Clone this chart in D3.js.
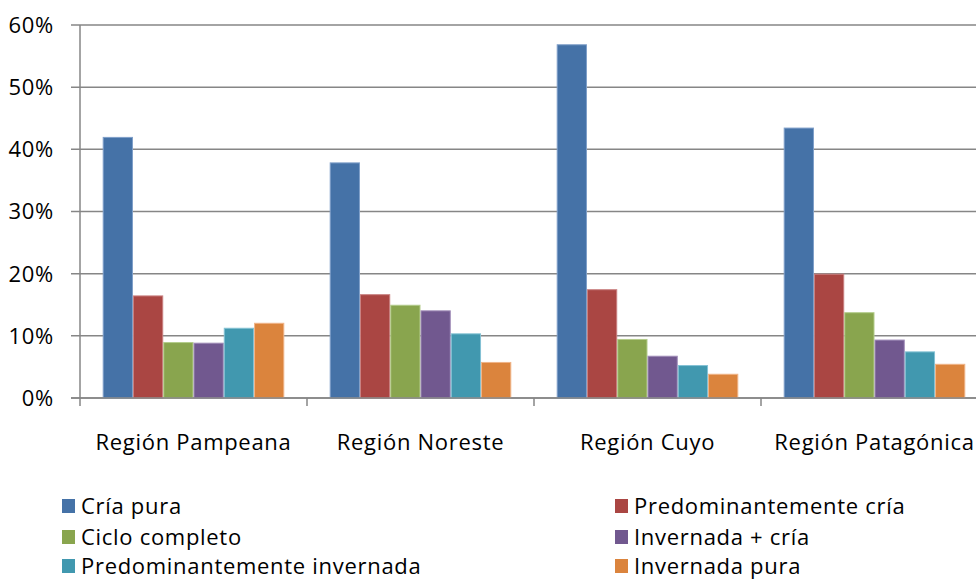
<!DOCTYPE html>
<html lang="es">
  <head>
    <meta charset="UTF-8" />
    <title>Chart</title>
    <style>
      body { margin: 0; background: #fff; }
      svg { display: block; font-family: "Open Sans", sans-serif; }
      svg text { letter-spacing: 0.7px; }
    </style>
  </head>
  <body>
    <svg id="chart" width="976" height="579"></svg>
    <script src="https://d3js.org/d3.v7.min.js"></script>
    <script>
      const regions = ["Región Pampeana", "Región Noreste", "Región Cuyo", "Región Patagónica"];
      const seriesNames = [
        "Cría pura",
        "Predominantemente cría",
        "Ciclo completo",
        "Invernada + cría",
        "Predominantemente invernada",
        "Invernada pura"
      ];
      const colors = ["#4572A7", "#AA4643", "#89A54E", "#71588F", "#4198AF", "#DB843D"];
      const borders = ["#7f9fc9", "#c98080", "#b3cc8a", "#a08cb8", "#84c2d4", "#f0b488"];
      // valores en % por serie, en el orden de regions
      const criaPura = [42.0, 37.9, 56.9, 43.5];
      const predCria = [16.5, 16.7, 17.5, 20.0];
      const cicloCompleto = [9.0, 15.0, 9.5, 13.8];
      const invernadaCria = [8.9, 14.1, 6.8, 9.4];
      const predInvernada = [11.3, 10.4, 5.3, 7.5];
      const invernadaPura = [12.1, 5.8, 3.9, 5.5];
      const yTicks = [0, 10, 20, 30, 40, 50, 60];

      const series = [criaPura, predCria, cicloCompleto, invernadaCria, predInvernada, invernadaPura];

      const svg = d3.select("#chart");
      const plotLeft = 80, plotRight = 988, plotTop = 25, plotBottom = 398;
      const fontSize = 22;

      const x0 = d3.scaleBand().domain(regions).range([plotLeft, plotRight]).paddingInner(0).paddingOuter(0);
      const x1 = d3.scaleBand().domain(d3.range(seriesNames.length)).range([0, x0.bandwidth()])
        .paddingInner(0).paddingOuter(0.75);
      const y = d3.scaleLinear().domain([0, 60]).range([plotBottom, plotTop]);

      // gridlines
      svg.append("g")
        .selectAll("line")
        .data(yTicks)
        .join("line")
        .attr("x1", plotLeft - 9)
        .attr("x2", plotRight)
        .attr("y1", (d) => y(d))
        .attr("y2", (d) => y(d))
        .attr("stroke", "#868686")
        .attr("stroke-width", 1.5);

      // y labels
      svg.append("g")
        .selectAll("text")
        .data(yTicks)
        .join("text")
        .attr("x", 54)
        .attr("y", (d) => y(d))
        .attr("dy", "0.36em")
        .attr("text-anchor", "end")
        .attr("font-size", fontSize)
        .attr("fill", "#000")
        .text((d) => d + "%");

      // bars
      const groups = svg.append("g")
        .selectAll("g")
        .data(regions)
        .join("g")
        .attr("transform", (d) => `translate(${x0(d)},0)`);

      groups.selectAll("rect")
        .data((r, ri) => series.map((s, si) => ({ si, v: s[ri] })))
        .join("rect")
        .attr("x", (d) => x1(d.si) + 0.5)
        .attr("width", x1.bandwidth() - 1)
        .attr("y", (d) => y(d.v) + 0.5)
        .attr("height", (d) => plotBottom - y(d.v) - 0.5)
        .attr("fill", (d) => colors[d.si])
        .attr("stroke", (d) => borders[d.si])
        .attr("stroke-width", 1);

      // y axis line
      svg.append("line")
        .attr("x1", plotLeft).attr("x2", plotLeft)
        .attr("y1", plotTop).attr("y2", plotBottom + 8)
        .attr("stroke", "#868686").attr("stroke-width", 1.5);

      // x axis line + ticks
      svg.append("line")
        .attr("x1", plotLeft - 9).attr("x2", plotRight)
        .attr("y1", plotBottom).attr("y2", plotBottom)
        .attr("stroke", "#868686").attr("stroke-width", 1.5);

      svg.append("g")
        .selectAll("line")
        .data(regions)
        .join("line")
        .attr("x1", (d) => x0(d) + x0.bandwidth())
        .attr("x2", (d) => x0(d) + x0.bandwidth())
        .attr("y1", plotBottom)
        .attr("y2", plotBottom + 8)
        .attr("stroke", "#868686")
        .attr("stroke-width", 1.5);

      // category labels
      svg.append("g")
        .selectAll("text")
        .data(regions)
        .join("text")
        .attr("x", (d) => x0(d) + x0.bandwidth() / 2)
        .attr("y", 442)
        .attr("dy", "0.36em")
        .attr("text-anchor", "middle")
        .attr("font-size", fontSize)
        .text((d) => d);

      // legend
      const legendX = [62, 615];
      const legendY = [506, 537, 566];
      const legend = svg.append("g")
        .selectAll("g")
        .data(seriesNames)
        .join("g")
        .attr("transform", (d, i) => `translate(${legendX[i % 2]},${legendY[Math.floor(i / 2)]})`);

      legend.append("rect")
        .attr("x", 0)
        .attr("y", -7)
        .attr("width", 13)
        .attr("height", 14)
        .attr("fill", (d, i) => colors[i]);

      legend.append("text")
        .attr("x", 19)
        .attr("y", 0)
        .attr("dy", "0.36em")
        .attr("font-size", fontSize)
        .text((d) => d);
    </script>
  </body>
</html>
